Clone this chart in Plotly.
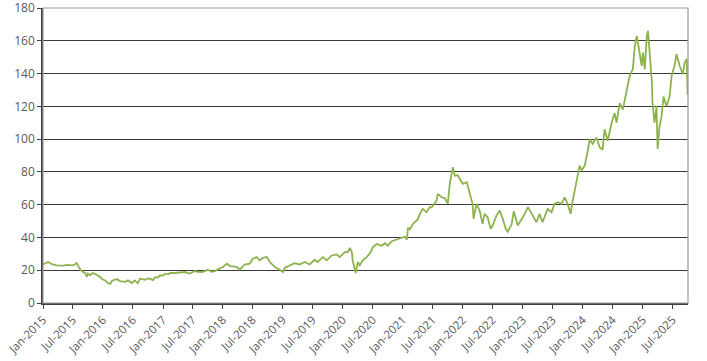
import plotly.graph_objects as go

dates = [
    "2015-01-01", "2015-01-19", "2015-02-01", "2015-02-19", "2015-03-01", "2015-03-25", "2015-04-13",
    "2015-05-07", "2015-05-25", "2015-06-13", "2015-07-01", "2015-07-13", "2015-07-25", "2015-08-07",
    "2015-08-19", "2015-09-01", "2015-09-13", "2015-09-25", "2015-10-01", "2015-10-13", "2015-11-01",
    "2015-11-19", "2015-12-01", "2015-12-13", "2015-12-25", "2016-01-13", "2016-02-01", "2016-02-13",
    "2016-02-25", "2016-03-13", "2016-04-01", "2016-04-13", "2016-05-01", "2016-05-13", "2016-06-01",
    "2016-06-13", "2016-06-25", "2016-07-13", "2016-08-01", "2016-08-13", "2016-09-01", "2016-09-13",
    "2016-10-01", "2016-10-13", "2016-11-01", "2016-11-13", "2016-12-01", "2016-12-13", "2017-01-01",
    "2017-01-13", "2017-02-01", "2017-02-13", "2017-03-13", "2017-04-13", "2017-05-13", "2017-06-13",
    "2017-07-13", "2017-08-01", "2017-08-25", "2017-09-13", "2017-10-01", "2017-10-25", "2017-11-13",
    "2017-12-01", "2017-12-13", "2018-01-01", "2018-01-25", "2018-02-13", "2018-03-01", "2018-03-25",
    "2018-04-13", "2018-05-01", "2018-05-13", "2018-06-13", "2018-07-01", "2018-07-25", "2018-08-13",
    "2018-09-01", "2018-09-25", "2018-10-13", "2018-11-01", "2018-11-13", "2018-12-13", "2019-01-01",
    "2019-01-13", "2019-02-13", "2019-03-13", "2019-04-13", "2019-05-13", "2019-06-13", "2019-07-13",
    "2019-08-01", "2019-09-01", "2019-09-25", "2019-10-25", "2019-11-25", "2019-12-13", "2020-01-13",
    "2020-02-01", "2020-02-13", "2020-02-25", "2020-03-01", "2020-03-13", "2020-03-19", "2020-04-01",
    "2020-04-13", "2020-05-01", "2020-05-25", "2020-06-19", "2020-07-01", "2020-07-25", "2020-08-25",
    "2020-09-13", "2020-10-01", "2020-10-25", "2020-11-25", "2020-12-25", "2021-01-13", "2021-01-25",
    "2021-02-01", "2021-02-13", "2021-03-01", "2021-04-01", "2021-04-13", "2021-05-01", "2021-05-25",
    "2021-06-13", "2021-06-25", "2021-07-13", "2021-07-25", "2021-08-01", "2021-08-25", "2021-09-13",
    "2021-10-01", "2021-10-13", "2021-11-01", "2021-11-13", "2021-12-01", "2021-12-13", "2022-01-01",
    "2022-01-25", "2022-02-13", "2022-03-01", "2022-03-07", "2022-03-25", "2022-04-13", "2022-05-01",
    "2022-05-13", "2022-06-01", "2022-06-19", "2022-07-01", "2022-07-25", "2022-08-13", "2022-09-01",
    "2022-09-19", "2022-10-01", "2022-10-25", "2022-11-07", "2022-12-01", "2023-01-01", "2023-02-01",
    "2023-02-25", "2023-03-25", "2023-04-13", "2023-05-01", "2023-06-01", "2023-06-25", "2023-07-13",
    "2023-08-01", "2023-08-25", "2023-09-13", "2023-10-01", "2023-10-19", "2023-11-01", "2023-11-25",
    "2023-12-13", "2023-12-25", "2024-01-13", "2024-02-01", "2024-02-13", "2024-03-01", "2024-03-25",
    "2024-04-13", "2024-05-01", "2024-05-13", "2024-06-01", "2024-06-25", "2024-07-13", "2024-07-25",
    "2024-08-13", "2024-09-01", "2024-09-25", "2024-10-13", "2024-11-01", "2024-11-13", "2024-11-25",
    "2024-12-07", "2024-12-25", "2025-01-01", "2025-01-13", "2025-01-25", "2025-02-01", "2025-02-13",
    "2025-02-25", "2025-03-01", "2025-03-13", "2025-03-25", "2025-04-01", "2025-04-13", "2025-04-25",
    "2025-05-07", "2025-05-25", "2025-06-13", "2025-06-25", "2025-07-13", "2025-07-25", "2025-08-13",
    "2025-09-01", "2025-09-13", "2025-09-25", "2025-10-01",
]

values = [
    23.5, 24.5, 25.0, 24.0, 23.5, 23.0, 23.0,
    22.8, 23.3, 23.0, 23.0, 23.5, 24.4, 22.0,
    20.0, 18.9, 18.5, 16.0, 17.9, 16.9, 18.3,
    17.5, 16.9, 16.0, 14.8, 13.8, 12.2, 11.5,
    13.4, 14.2, 14.5, 13.4, 13.2, 12.8, 13.8,
    13.0, 12.2, 13.8, 12.0, 14.8, 14.5, 14.2,
    15.0, 14.8, 14.0, 15.8, 15.5, 16.9, 16.7,
    17.9, 17.5, 18.3, 18.3, 18.5, 18.9, 18.0,
    19.5, 19.0, 18.9, 19.5, 20.3, 19.0, 19.5,
    20.5, 20.9, 22.0, 24.0, 22.5, 22.3, 22.0,
    20.3, 22.0, 23.5, 24.0, 27.0, 28.0, 26.0,
    27.5, 28.0, 25.0, 23.5, 22.0, 20.3, 18.9,
    21.5, 23.0, 24.3, 23.5, 25.0, 23.5, 26.4,
    25.0, 28.0, 26.0, 29.0, 29.6, 28.0, 31.0,
    31.0, 33.7, 31.0, 26.0, 20.0, 18.3, 25.0,
    23.0, 26.0, 28.0, 31.0, 34.0, 36.0, 35.0,
    36.5, 35.0, 37.7, 38.6, 39.8, 40.5, 38.6,
    46.0, 45.0, 48.0, 51.0, 54.0, 57.4, 55.4,
    58.5, 58.4, 60.5, 62.5, 66.6, 64.5, 64.0,
    60.5, 72.7, 82.8, 77.7, 78.0, 75.7, 72.7,
    73.7, 66.6, 60.5, 51.4, 60.5, 56.4, 48.3,
    54.4, 52.3, 45.3, 47.3, 53.4, 56.4, 51.4,
    45.3, 43.5, 48.0, 56.0, 47.3, 52.3, 58.4,
    54.4, 49.3, 54.4, 49.3, 57.4, 55.4, 60.5,
    61.5, 60.5, 64.5, 60.5, 54.4, 62.5, 74.7,
    83.8, 81.0, 83.8, 93.0, 100.0, 97.0, 101.0,
    95.0, 93.5, 106.0, 99.0, 110.0, 116.0, 110.0,
    122.0, 118.0, 130.0, 138.6, 142.7, 156.8, 163.0,
    155.0, 144.7, 152.8, 142.7, 163.0, 166.0, 151.0,
    134.5, 122.0, 110.0, 120.0, 94.0, 108.0, 114.0,
    126.0, 120.0, 126.0, 138.6, 144.7, 151.8, 144.7,
    139.6, 146.7, 149.0, 127.0,
]

y_ticks = [0, 20, 40, 60, 80, 100, 120, 140, 160, 180]

fig = go.Figure()
fig.add_trace(go.Scatter(
    x=dates, y=values, mode="lines",
    line=dict(color="#8DB34E", width=1.8),
    hoverinfo="skip", showlegend=False,
))

fig.update_layout(
    width=707, height=361,
    margin=dict(l=43, r=19, t=8, b=58, autoexpand=False),
    paper_bgcolor="white", plot_bgcolor="white",
    font=dict(family="Open Sans, Noto Sans, sans-serif", color="#595959", size=11),
    shapes=[dict(type="rect", xref="paper", yref="paper", x0=0, x1=1, y0=0, y1=1,
                 line=dict(color="#9A9A9A", width=1.2), layer="above")],
)

fig.update_xaxes(
    type="date",
    range=["2015-01-01", "2025-10-03"],
    tick0="2015-01-01", dtick="M6", tickformat="%b-%Y",
    tickangle=-45, ticks="outside", ticklen=4, tickcolor="#404040",
    showline=True, linecolor="#404040", linewidth=1.5,
    showgrid=False, zeroline=False, automargin=False,
    ticklabeloverflow="allow",
    tickfont=dict(size=11.5, color="#595959"),
)
fig.update_yaxes(
    range=[0, 180], tickvals=y_ticks,
    ticks="outside", ticklen=4, tickcolor="#404040",
    showline=True, linecolor="#404040", linewidth=1.5,
    showgrid=True, gridcolor="#3A3A3A", gridwidth=1,
    zeroline=False, automargin=False,
    ticklabeloverflow="allow",
    tickfont=dict(size=12, color="#595959"),
)

fig.write_html("out.html")
